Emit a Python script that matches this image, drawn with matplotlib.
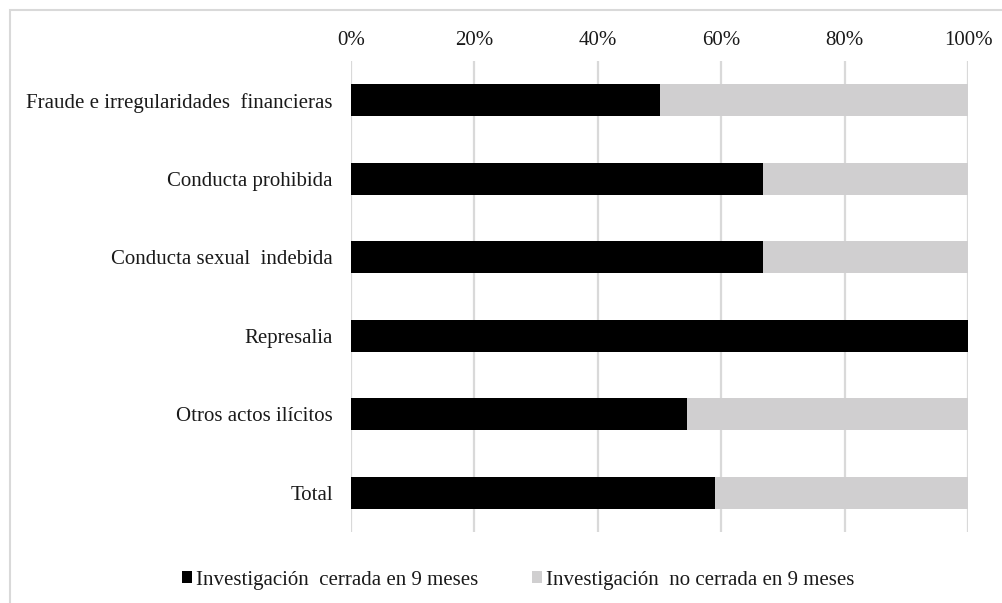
import matplotlib.pyplot as plt
from matplotlib.patches import Rectangle

categorias = [
    "Fraude e irregularidades  financieras",
    "Conducta prohibida",
    "Conducta sexual  indebida",
    "Represalia",
    "Otros actos ilícitos",
    "Total",
]
cerrada = [50.0, 66.7, 66.7, 100.0, 54.5, 59.0]
no_cerrada = [50.0, 33.3, 33.3, 0.0, 45.5, 41.0]
etiquetas_x = ["0%", "20%", "40%", "60%", "80%", "100%"]

plt.rcParams['font.family'] = ['Liberation Serif', 'DejaVu Serif']
fs = 15

fig = plt.figure(figsize=(10.03, 6.03), dpi=100)
ax = fig.add_axes([351 / 1003, 1 - 532 / 603, 617 / 1003, 471 / 603])

y = list(range(len(categorias)))
ax.barh(y, cerrada, height=0.41, color="black", label="Investigación  cerrada en 9 meses", zorder=3)
ax.barh(y, no_cerrada, left=cerrada, height=0.41, color="#d0cfd0",
        label="Investigación  no cerrada en 9 meses", zorder=3)

ax.set_xlim(0, 100)
ax.set_ylim(len(categorias) - 0.5, -0.5)
ax.set_yticks(y)
ax.set_yticklabels(categorias, fontsize=fs)
ax.set_xticks([0, 20, 40, 60, 80, 100])
ax.set_xticklabels(etiquetas_x, fontsize=fs)
ax.xaxis.tick_top()
ax.tick_params(axis="both", length=0, colors="#1a1a1a")
ax.tick_params(axis="x", pad=8)
ax.tick_params(axis="y", pad=13)
ax.grid(axis="x", color="#d9d9d9", linewidth=1.6, zorder=0)
for s in ax.spines.values():
    s.set_visible(False)

fig.legend(loc="center", bbox_to_anchor=(518 / 1003, 1 - 580 / 603), ncol=2, frameon=False,
           fontsize=fs, handlelength=0.5, handleheight=0.5, handletextpad=0.15,
           columnspacing=2.6, labelcolor="#1a1a1a")

# marco exterior
fig.patches.append(Rectangle((10 / 1003, -0.01), 1.0, 1 - 10 / 603 + 0.01,
                             transform=fig.transFigure, fill=False,
                             edgecolor="#d9d9d9", linewidth=1.5))

fig.savefig("out.png", dpi=100)
